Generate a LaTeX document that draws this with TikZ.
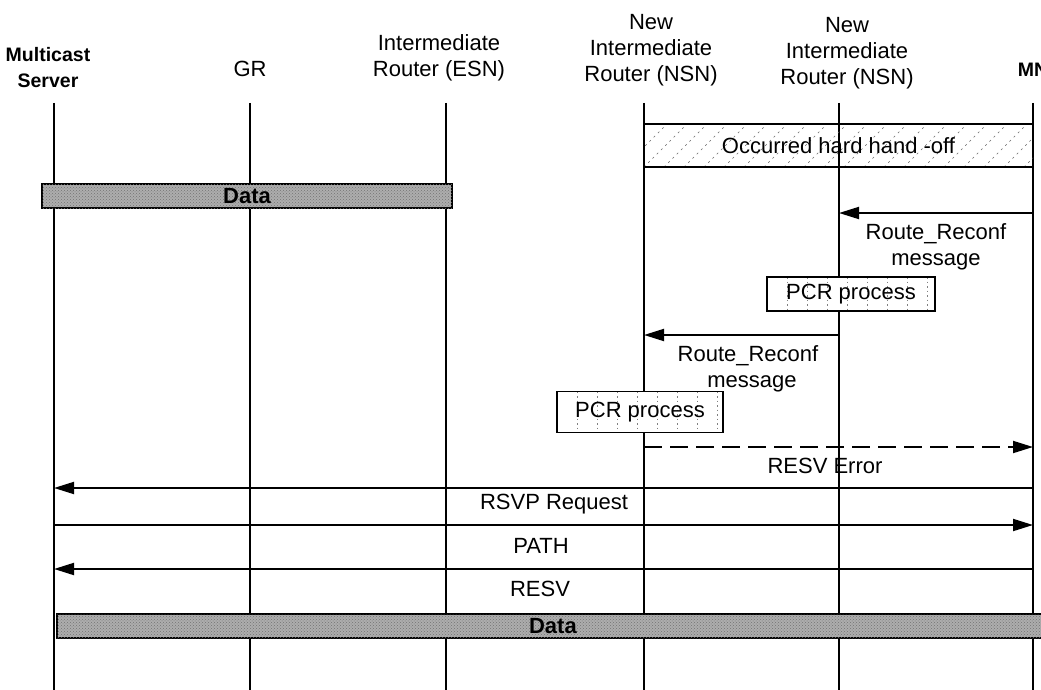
\documentclass[tikz,border=0pt]{standalone}
\usepackage{fontspec}
\setmainfont{Liberation Sans}
\usetikzlibrary{arrows.meta,patterns}
\begin{document}
\begin{tikzpicture}[x=1pt,y=-1pt,
  txt/.style={font=\fontsize{22}{26}\selectfont, inner sep=0pt, align=center},
  hdr/.style={font=\fontsize{19.5}{26}\selectfont\bfseries, inner sep=0pt, align=center},
  life/.style={line width=1.5pt},
  msg/.style={line width=1.9pt, -{Triangle[length=20pt,width=12pt]}},
  dmsg/.style={msg, dash pattern=on 18pt off 8pt},
  pcrbox/.style={draw, line width=1.8pt, fill=white, inner sep=0pt,
    font=\fontsize{22}{26}\selectfont,
    path picture={\foreach \i in {1,...,8}{\draw[gray, line width=0.6pt, dash pattern=on 1.5pt off 3pt]
      ([xshift=\i*20pt]path picture bounding box.north west) -- ([xshift=\i*20pt]path picture bounding box.south west);}}},
  databar/.style={draw, line width=1.8pt, fill=black!32, inner sep=0pt,
    font=\fontsize{22}{26}\selectfont\bfseries,
    postaction={pattern=crosshatch dots, pattern color=black!55}},
  hatchbox/.style={inner sep=0pt, font=\fontsize{22}{26}\selectfont,
    path picture={\foreach \i in {-40,-20,...,400}{\draw[black!60, line width=0.6pt, dash pattern=on 2pt off 4pt]
      ([xshift=\i pt]path picture bounding box.south west) -- ++(43,-43);}}}
]
\useasboundingbox (0,0) rectangle (1041,690);
\clip (0,0) rectangle (1041,690);

% headers
\node[hdr] (hms) at (48,68) {Multicast\\Server};
\node[txt] (hgr) at (250,69) {GR};
\node[txt] (hesn) at (439,58) {Intermediate\\Router (ESN)};
\node[txt] (hnsn1) at (651,50) {New\\Intermediate\\Router (NSN)};
\node[txt] (hnsn2) at (847,53) {New\\Intermediate\\Router (NSN)};
\node[hdr] (hmn) at (1033,70) {MN};

% lifelines
\foreach \n/\x in {ms/54, gr/250, esn/446, nsnA/644, nsnB/839, mn/1033}{
  \coordinate (\n T) at (\x,103);
  \coordinate (\n B) at (\x,692);
  \draw[life] (\n T) -- (\n B);
}

% hard hand-off box
\node[hatchbox, minimum width=389pt, minimum height=43pt] (hoff) at (838.5,145.5) {Occurred hard hand -off};
\draw[line width=1.8pt] (hoff.north west) -- (hoff.north east);
\draw[line width=1.8pt] (hoff.south west) -- (hoff.south east);

% data bar top
\node[databar, minimum width=410pt, minimum height=24pt] (data1) at (247,196) {Data};

% Route_Reconf 1
\coordinate (r1s) at (1033,213);
\coordinate (r1e) at (839,213);
\draw[msg] (r1s) -- (r1e);
\node[txt] (r1l) at (936,247) {Route\_Reconf\\message};
\node[pcrbox, minimum width=168pt, minimum height=34pt] (pcr1) at (851,294) {PCR process};

% Route_Reconf 2
\coordinate (r2s) at (839,335);
\coordinate (r2e) at (644,335);
\draw[msg] (r2s) -- (r2e);
\node[txt] (r2l) at (748,369) {Route\_Reconf\\\hspace*{8pt}message};
\node[pcrbox, minimum width=166pt, minimum height=41pt] (pcr2) at (640,412) {PCR process};

% RESV Error
\coordinate (e1s) at (644,447);
\coordinate (e1e) at (1033,447);
\draw[dmsg] (e1s) -- (e1e);
\node[txt] (e1l) at (825,466) {RESV Error};

% RSVP Request
\coordinate (q1s) at (1033,488);
\coordinate (q1e) at (54,488);
\draw[msg] (q1s) -- (q1e);
\node[txt] (q1l) at (554,504) {RSVP Request};

% PATH
\coordinate (p1s) at (54,525);
\coordinate (p1e) at (1033,525);
\draw[msg] (p1s) -- (p1e);
\node[txt] (p1l) at (541,546) {PATH};

% RESV
\coordinate (v1s) at (1033,569);
\coordinate (v1e) at (54,569);
\draw[msg] (v1s) -- (v1e);
\node[txt] (v1l) at (540,589) {RESV};

% data bar bottom
\node[databar, minimum width=1000pt, minimum height=24pt, anchor=west] (data2) at (56,626) {\hspace*{-8pt}Data};
\end{tikzpicture}
\end{document}
